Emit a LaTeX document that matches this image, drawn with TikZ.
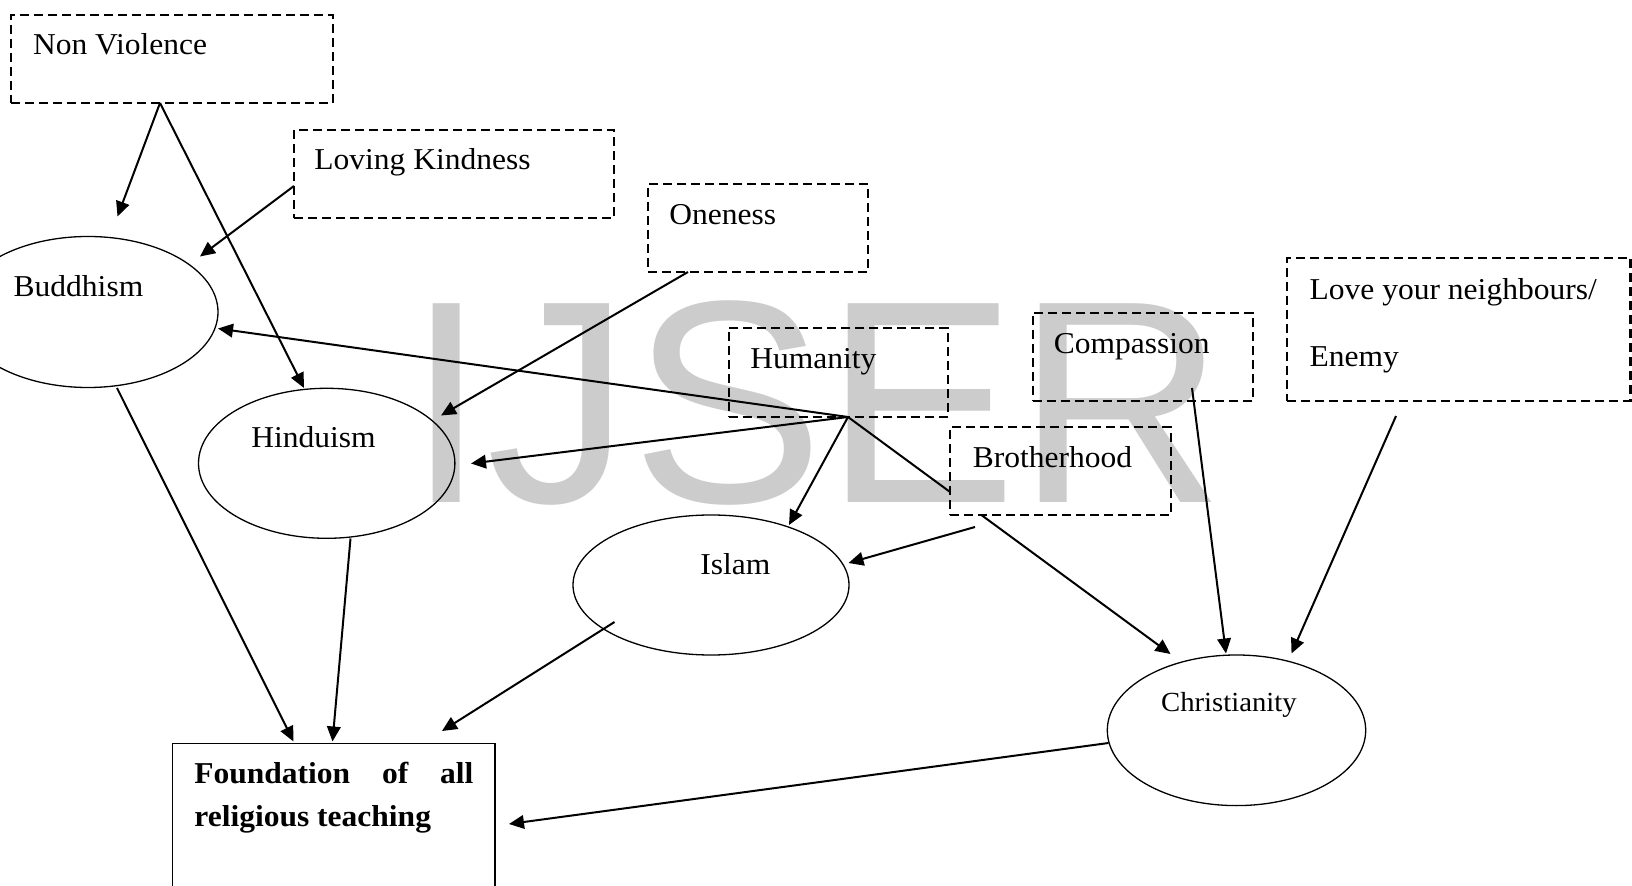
\documentclass[tikz,border=0pt]{standalone}
\usepackage{fontspec}
\setmainfont{Liberation Serif}[FakeStretch=1.04]
\newfontfamily\wmfont{Liberation Sans}
\usetikzlibrary{arrows.meta,shapes.geometric}

\begin{document}
\begin{tikzpicture}[x=0.5pt,y=-0.5pt,
  lbl/.style={inner sep=0pt, anchor=base west, font=\fontsize{15.15}{18}\selectfont},
  dbox/.style={draw, dash pattern=on 4.5pt off 2.5pt, line width=1.1pt, inner sep=0pt},
  faith/.style={draw, ellipse, line width=0.65pt, inner sep=0pt},
  conn/.style={line width=1pt, -{Triangle[length=7.5pt,width=6.8pt]}},
]
\clip (0,0) rectangle (1632,886);

% journal watermark behind everything
\node[inner sep=0pt, anchor=base west, text=black!20,
      font=\fontsize{144.5}{150}\wmfont] (watermark) at (406,503) {IJSER};

% teachings (dashed boxes)
\node[dbox, minimum width=161pt,    minimum height=44pt]   (nonviolence) at (172,59) {};
\node[dbox, minimum width=160pt,    minimum height=44pt]   (kindness)    at (454,174) {};
\node[dbox, minimum width=110pt,    minimum height=44pt]   (oneness)     at (758,228) {};
\node[dbox, minimum width=109.7pt,  minimum height=44.5pt] (humanity)    at (838.3,372.2) {};
\node[dbox, minimum width=110.15pt, minimum height=44pt]   (compassion)  at (1142.85,357) {};
\node[dbox, minimum width=110.3pt,  minimum height=44pt]   (brotherhood) at (1060.3,471) {};
\node[dbox, minimum width=171.75pt, minimum height=71.5pt] (love)        at (1458.75,329.5) {};

% religions (ellipses)
\node[faith, minimum width=130pt,   minimum height=75.5pt] (buddhism)     at (88,312) {};
\node[faith, minimum width=128.2pt, minimum height=75pt]   (hinduism)     at (326.7,463.3) {};
\node[faith, minimum width=138pt,   minimum height=70pt]   (islam)        at (711,585) {};
\node[faith, minimum width=129.2pt, minimum height=75.3pt] (christianity) at (1236.5,730.3) {};

% foundation box (runs off the bottom edge)
\node[draw, line width=0.75pt, inner sep=0pt, minimum width=161.15pt, minimum height=76pt]
  (foundation) at (333.85,819.3) {};

% connector end points
\coordinate (nv-out)  at (160,103);
\coordinate (bud-in1) at (117.5,216.5);
\coordinate (hin-in1) at (304,388);
\coordinate (lk-out)  at (294,186);
\coordinate (bud-in2) at (200,256.5);
\coordinate (on-out)  at (688,272);
\coordinate (hin-in2) at (441,415.5);
\coordinate (hub)     at (848,417);
\coordinate (bud-in3) at (218,328.5);
\coordinate (hin-in3) at (471,463.5);
\coordinate (isl-in1) at (789,525);
\coordinate (chr-in1) at (1170.5,654);
\coordinate (br-out)  at (975,527);
\coordinate (isl-in2) at (848.5,563);
\coordinate (co-out)  at (1192,388);
\coordinate (chr-in2) at (1226,653.5);
\coordinate (lv-out)  at (1396,416);
\coordinate (chr-in3) at (1291.5,653.5);
\coordinate (bud-out) at (117,388);
\coordinate (fnd-in1) at (293.5,741.5);
\coordinate (hin-out) at (350.5,538.5);
\coordinate (fnd-in2) at (332.5,741.5);
\coordinate (isl-out) at (614.5,622);
\coordinate (fnd-in3) at (442,731);
\coordinate (chr-out) at (1108.5,743);
\coordinate (fnd-in4) at (509,824);

% connectors
\draw[conn] (nv-out) -- (bud-in1);
\draw[conn] (nv-out) -- (hin-in1);
\draw[conn] (lk-out) -- (bud-in2);
\draw[conn] (on-out) -- (hin-in2);
\draw[conn] (hub) -- (bud-in3);
\draw[conn] (hub) -- (hin-in3);
\draw[conn] (hub) -- (isl-in1);
\begin{scope}[even odd rule]
  % the humanity-to-christianity line passes behind the brotherhood box
  \clip (0,0) -- (1632,0) -- (1632,886) -- (0,886) -- cycle
    (brotherhood.south west) -- (brotherhood.south east)
    -- (brotherhood.north east) -- (brotherhood.north west) -- cycle;
  \draw[conn] (hub) -- (chr-in1);
\end{scope}
\draw[conn] (br-out) -- (isl-in2);
\draw[conn] (co-out) -- (chr-in2);
\draw[conn] (lv-out) -- (chr-in3);
\draw[conn] (bud-out) -- (fnd-in1);
\draw[conn] (hin-out) -- (fnd-in2);
\draw[conn] (isl-out) -- (fnd-in3);
\draw[conn] (chr-out) -- (fnd-in4);

% labels
\node[lbl] (nonviolence-t) at (32.7,55)    {Non Violence};
\node[lbl] (kindness-t)    at (314,170)    {Loving Kindness};
\node[lbl] (oneness-t)     at (669,224.5)  {Oneness};
\node[lbl] (humanity-t)    at (750,368.5)  {Humanity};
\node[lbl] (compassion-t)  at (1053.5,353.5) {Compassion};
\node[lbl] (brotherhood-t) at (972.5,467.3) {Brotherhood};
\node[lbl, font=\fontsize{15.15}{33.7}\selectfont] (love-t) at (1309.3,299.3)
  {\parbox[t]{170pt}{Love your neighbours/\\Enemy}};
\node[lbl] (buddhism-t)    at (13.3,296.7) {Buddhism};
\node[lbl] (hinduism-t)    at (251,447.3)  {Hinduism};
\node[lbl] (islam-t)       at (700,574.3)  {Islam};
\node[lbl, font=\fontsize{13.8}{16}\selectfont] (christianity-t) at (1160.7,711.7) {Christianity};
\node[lbl, font=\fontsize{15.15}{21.5}\selectfont\bfseries] (foundation-t) at (194,783.3)
  {\parbox[t]{139.5pt}{\makebox[139.5pt][s]{Foundation of all}\\religious teaching}};
\end{tikzpicture}
\end{document}
